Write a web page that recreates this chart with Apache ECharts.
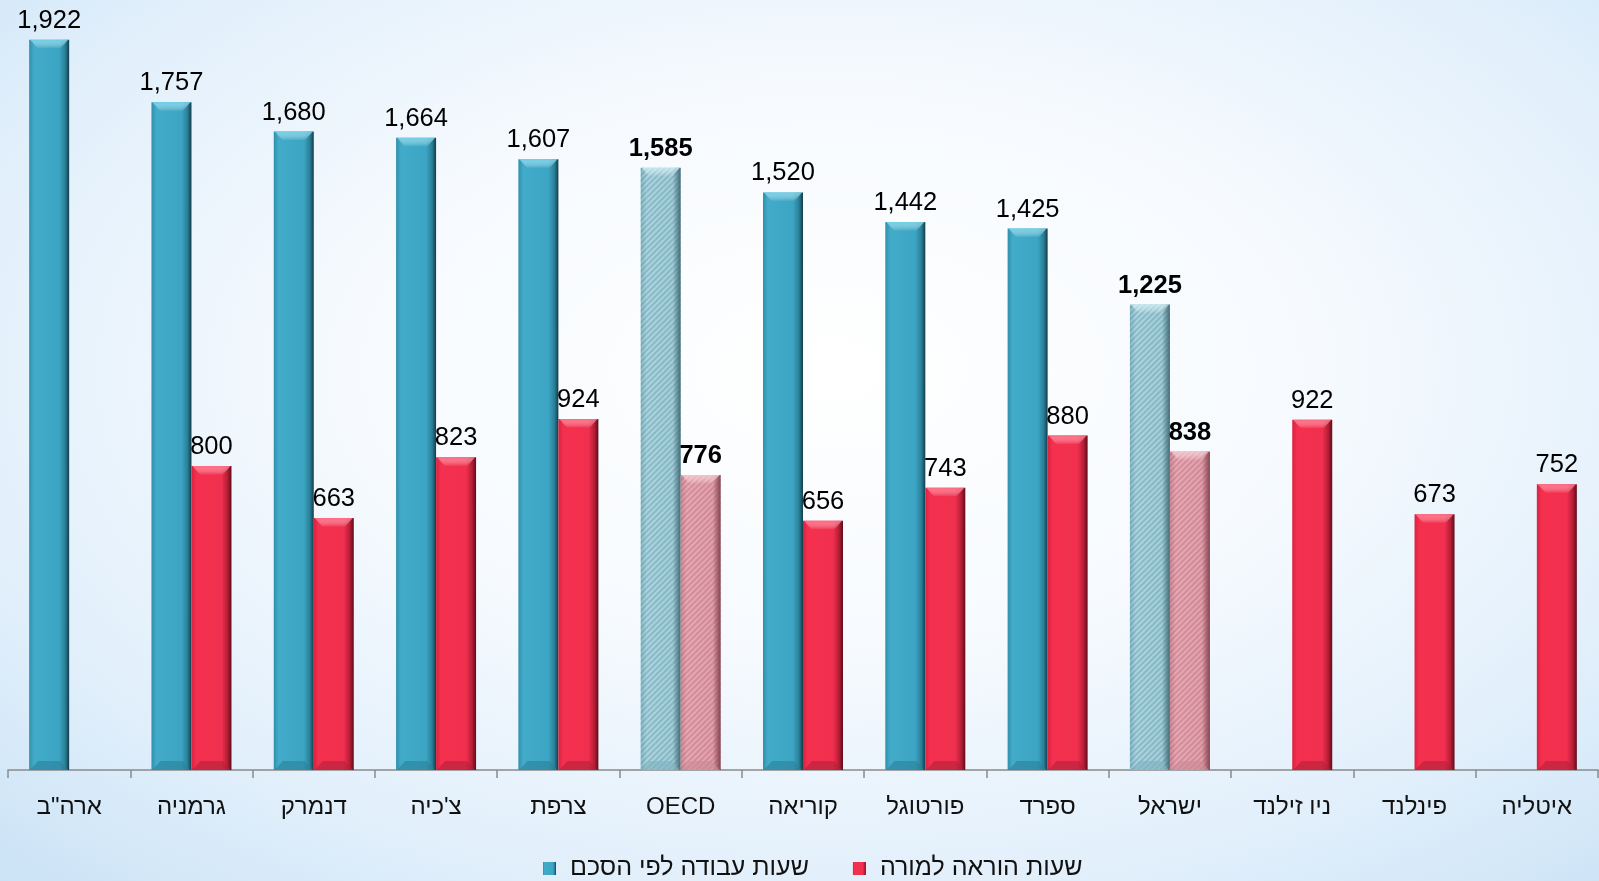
<!DOCTYPE html>
<html><head><meta charset="utf-8">
<script src="https://cdn.jsdelivr.net/npm/echarts@6/dist/echarts.min.js"></script>
<style>
html,body{margin:0;padding:0;width:1599px;height:881px;overflow:hidden;
background: radial-gradient(ellipse 75% 80% at 52% 42%, #ffffff 0%, #f6fafe 40%, #e1effb 75%, #cbe3f6 100%);}
#c{width:1599px;height:881px;}
</style></head>
<body><div id="c"></div>
<script>
const categories = ['ארה"ב','גרמניה','דנמרק',"צ'כיה",'צרפת','OECD','קוריאה','פורטוגל','ספרד','ישראל','ניו זילנד','פינלנד','איטליה'];
const workHours = [1922,1757,1680,1664,1607,1585,1520,1442,1425,1225,null,null,null];
const teachHours = [null,800,663,823,924,776,656,743,880,838,922,673,752];
const highlight = ['OECD','ישראל'];
const seriesNames = ['שעות עבודה לפי הסכם','שעות הוראה למורה'];

const FONT = '"Liberation Sans", Arial, "DejaVu Sans", sans-serif';
const BW = 40;
const blueGrad = {type:'linear',x:0,y:0,x2:1,y2:0,colorStops:[
 {offset:0,color:'#2f8fab'},{offset:0.12,color:'#42abca'},{offset:0.75,color:'#3ca5c3'},{offset:0.9,color:'#2a7f98'},{offset:1,color:'#123c4a'}]};
const redGrad = {type:'linear',x:0,y:0,x2:1,y2:0,colorStops:[
 {offset:0,color:'#d8223f'},{offset:0.12,color:'#f5304f'},{offset:0.75,color:'#f0304e'},{offset:0.9,color:'#b51d36'},{offset:1,color:'#5e0c19'}]};
const blueHatch = {type:'linear',x:0,y:0,x2:1,y2:0,colorStops:[
 {offset:0,color:'#7fbccc'},{offset:0.15,color:'#a5d7e4'},{offset:0.8,color:'#9ed1df'},{offset:1,color:'#3f6f7c'}]};
const redHatch = {type:'linear',x:0,y:0,x2:1,y2:0,colorStops:[
 {offset:0,color:'#d68896'},{offset:0.15,color:'#f0a5b2'},{offset:0.8,color:'#eb9dab'},{offset:1,color:'#8a4050'}]};
const decal = {symbol:'rect',symbolSize:1,dashArrayX:[1,0],dashArrayY:[1.5,2],rotation:-Math.PI/4,color:'rgba(90,90,90,0.25)'};

const bevel = {
  0:{top:'#74d3ea',topH:'#cdeef6',bot:'#2a8099',botH:'#7fb3c0'},
  1:{top:'#ff6f86',topH:'#f8cbd3',bot:'#b3203a',botH:'#c98a96'}
};

function build(vals, hatch){
  return vals.map((v,i)=>{
    if(v==null) return null;
    if(highlight.includes(categories[i])){
      return {value:v,itemStyle:{color:hatch,decal:decal},label:{fontWeight:'bold'}};
    }
    return {value:v};
  });
}
function bevelData(vals){
  const out=[];
  vals.forEach((v,i)=>{ if(v!=null) out.push([i,v,highlight.includes(categories[i])?1:0]); });
  return out;
}
function bevelSeries(vals, sIdx){
  return {
    type:'custom', silent:true, z:3,
    data:bevelData(vals),
    renderItem:(params, api)=>{
      const top = api.coord([api.value(0), api.value(1)]);
      const base = api.coord([api.value(0), 0]);
      const hl = api.value(2)===1;
      const l = sIdx===0 ? top[0]-BW : top[0];
      const r = l+BW, t = top[1], b = base[1], d=9;
      const c = bevel[sIdx];
      return {type:'group',children:[
        {type:'polygon',shape:{points:[[l+1,t],[r-1,t],[r-d,t+d],[l+d,t+d]]},
         style:{fill:{type:'linear',x:0,y:0,x2:0,y2:1,colorStops:[{offset:0,color:hl?c.topH:c.top},{offset:1,color:'rgba(255,255,255,0)'}]},opacity:hl?0.8:0.9}},
        {type:'polygon',shape:{points:[[l+1,b],[r-1,b],[r-d,b-d],[l+d,b-d]]},
         style:{fill:hl?c.botH:c.bot,opacity:0.6}}
      ]};
    }
  };
}

const chart = echarts.init(document.getElementById('c'),null,{renderer:'canvas'});
chart.setOption({
  backgroundColor:'transparent',
  aria:{enabled:false},
  grid:{left:8,right:1,top:10,bottom:111,containLabel:false},
  legend:{
    bottom:-5,left:538,itemWidth:13,itemHeight:13,itemGap:44,icon:'rect',
    textStyle:{fontFamily:FONT,fontSize:25,color:'#111',padding:[0,0,0,9]},
    data:[{name:seriesNames[0],itemStyle:{color:blueGrad}},{name:seriesNames[1],itemStyle:{color:redGrad}}]
  },
  xAxis:{type:'category',data:categories,
    axisLine:{lineStyle:{color:'#8a8a8a',width:1.5}},
    axisTick:{show:true,length:8,lineStyle:{color:'#8a8a8a',width:1.5}},
    axisLabel:{fontFamily:FONT,fontSize:24,color:'#111',margin:25}},
  yAxis:{type:'value',min:0,max:2000,show:false,splitLine:{show:false}},
  series:[
    {name:seriesNames[0],type:'bar',barWidth:BW,barGap:'0%',
     itemStyle:{color:blueGrad},
     label:{show:true,position:'top',distance:6,fontFamily:FONT,fontSize:25.5,color:'#000',
       formatter:p=>p.value.toLocaleString('en-US')},
     data:build(workHours,blueHatch)},
    {name:seriesNames[1],type:'bar',barWidth:BW,barGap:'0%',
     itemStyle:{color:redGrad},
     label:{show:true,position:'top',distance:6,fontFamily:FONT,fontSize:25.5,color:'#000',
       formatter:p=>p.value.toLocaleString('en-US')},
     data:build(teachHours,redHatch)},
    bevelSeries(workHours,0),
    bevelSeries(teachHours,1)
  ]
});
</script></body></html>
